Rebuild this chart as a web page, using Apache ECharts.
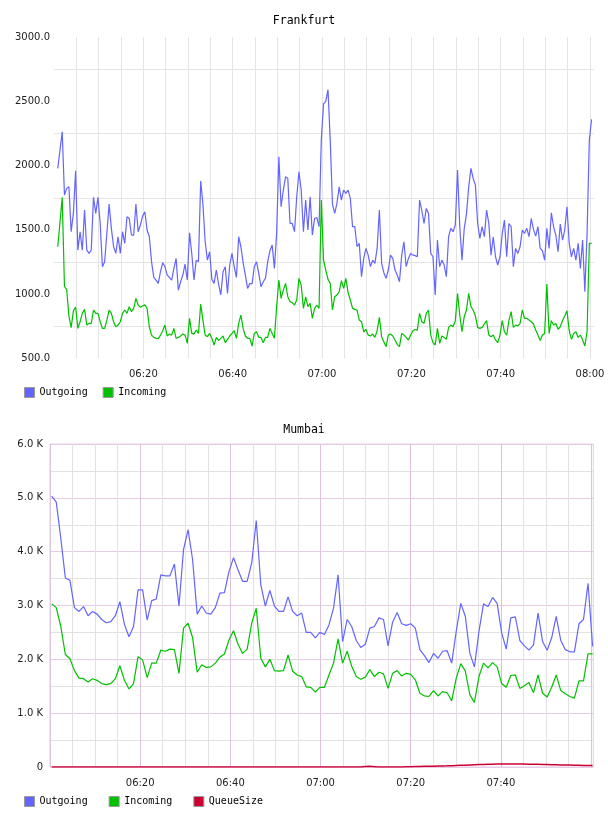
<!DOCTYPE html>
<html>
<head>
<meta charset="utf-8">
<script src="https://cdn.jsdelivr.net/npm/echarts@6/dist/echarts.min.js"></script>
<style>
  html, body { margin: 0; padding: 0; background: #fff; }
  #main { width: 608px; height: 816px; }
</style>
</head>
<body>
<div id="main"></div>
<script>
// 时间轴：06:00 之后的分钟数
var fraStart = 0.84, fraStep = 0.5;     // Frankfurt 每 30 秒一个点
var mumStart = 0.38, mumStep = 1.008;   // Mumbai 约每分钟一个点

// Frankfurt
var fraOutgoing = [
  1978, 2120, 2263, 1771, 1823, 1836, 1486, 1628, 1960, 1343,
  1486, 1343, 1654, 1343, 1317, 1343, 1753, 1628, 1753, 1550,
  1214, 1252, 1478, 1701, 1512, 1369, 1317, 1447, 1317, 1486,
  1395, 1602, 1589, 1460, 1460, 1701, 1486, 1538, 1607, 1641,
  1499, 1447, 1252, 1131, 1110, 1084, 1175, 1245, 1214, 1149,
  1131, 1110, 1201, 1278, 1032, 1097, 1149, 1234, 1110, 1478,
  1317, 1110, 1265, 1252, 1880, 1700, 1408, 1265, 1330, 1115,
  1084, 1188, 1079, 994, 1175, 1214, 1006, 1227, 1317, 1214,
  1130, 1447, 1369, 1245, 1149, 1045, 1084, 1079, 1214, 1252,
  1162, 1058, 1097, 1123, 1252, 1338, 1382, 1201, 1473, 2069,
  1680, 1810, 1913, 1900, 1550, 1550, 1486, 1758, 1952, 1810,
  1486, 1732, 1499, 1758, 1460, 1589, 1597, 1525, 2200, 2480,
  2500, 2590, 2200, 1700, 1628, 1706, 1835, 1732, 1810, 1784,
  1810, 1745, 1525, 1525, 1369, 1395, 1136, 1278, 1356, 1304,
  1214, 1265, 1240, 1356, 1654, 1240, 1167, 1123, 1188, 1304,
  1278, 1188, 1149, 1097, 1304, 1408, 1214, 1278, 1317, 1304,
  1300, 1291, 1732, 1649, 1550, 1667, 1628, 1317, 1291, 994,
  1421, 1214, 1265, 1227, 1136, 1447, 1512, 1486, 1538, 1965,
  1525, 1265, 1512, 1623, 1835, 1978, 1900, 1848, 1550, 1434,
  1525, 1447, 1654, 1550, 1304, 1447, 1291, 1227, 1291, 1467,
  1576, 1291, 1550, 1525, 1214, 1356, 1317, 1369, 1499, 1473,
  1512, 1447, 1589, 1504, 1452, 1525, 1356, 1338, 1265, 1512,
  1356, 1633, 1525, 1460, 1330, 1545, 1421, 1499, 1680, 1395,
  1291, 1356, 1265, 1395, 1201, 1421, 1020, 1473, 2198, 2359
];
var fraIncoming = [
  1369, 1560, 1753, 1060, 1035, 830, 740, 870, 900, 734,
  786, 851, 882, 760, 773, 773, 877, 851, 851, 786,
  734, 734, 799, 877, 851, 786, 747, 760, 786, 851,
  877, 851, 903, 864, 890, 967, 916, 898, 908, 918,
  890, 747, 682, 664, 657, 654, 682, 716, 760, 675,
  690, 682, 734, 657, 664, 675, 690, 682, 618, 812,
  695, 690, 721, 695, 923, 799, 682, 670, 695, 657,
  605, 664, 639, 657, 675, 623, 649, 675, 695, 716,
  657, 773, 838, 734, 675, 657, 657, 597, 695, 708,
  664, 664, 623, 664, 664, 734, 695, 657, 903, 1110,
  967, 1032, 1084, 980, 942, 934, 916, 955, 1123, 1071,
  890, 980, 903, 929, 812, 890, 916, 890, 1732, 1265,
  1188, 1115, 1084, 877, 980, 993, 1019, 1105, 1045, 1123,
  1012, 955, 890, 882, 877, 799, 786, 708, 727, 682,
  675, 690, 664, 716, 820, 670, 631, 592, 682, 690,
  675, 644, 610, 592, 695, 682, 664, 644, 682, 716,
  725, 721, 851, 786, 773, 851, 877, 682, 623, 605,
  734, 618, 675, 664, 649, 742, 760, 747, 794, 1006,
  838, 708, 825, 877, 1006, 903, 877, 830, 742, 734,
  742, 768, 794, 682, 670, 682, 644, 623, 682, 794,
  708, 682, 794, 864, 742, 760, 753, 773, 877, 812,
  812, 799, 786, 768, 721, 682, 639, 682, 695, 1080,
  695, 794, 760, 773, 727, 747, 794, 830, 872, 716,
  649, 695, 708, 664, 682, 644, 597, 708, 1395, 1395
];

// Mumbai
var mumOutgoing = [
  5030, 4920, 4250, 3510, 3470, 2960, 2890, 2980, 2810, 2890,
  2840, 2740, 2680, 2700, 2810, 3070, 2650, 2420, 2610, 3290,
  3290, 2730, 3090, 3120, 3570, 3550, 3550, 3770, 2990, 4040,
  4410, 3850, 2840, 2990, 2860, 2840, 2960, 3230, 3240, 3630,
  3890, 3660, 3450, 3450, 3790, 4580, 3390, 2990, 3280, 2990,
  2890, 2890, 3160, 2890, 2810, 2860, 2500, 2500, 2400, 2500,
  2460, 2640, 2950, 3570, 2330, 2740, 2610, 2350, 2220, 2280,
  2580, 2610, 2770, 2740, 2250, 2690, 2870, 2660, 2630, 2660,
  2580, 2180, 2070, 1940, 2110, 2020, 2150, 2160, 1930, 2520,
  3040, 2800, 2110, 1860, 2520, 3030, 2980, 3150, 3040, 2490,
  2190, 2770, 2790, 2350, 2250, 2170, 2270, 2860, 2330, 2170,
  2400, 2800, 2350, 2180, 2140, 2140, 2660, 2740, 3410, 2240
];
var mumIncoming = [
  3030, 2960, 2610, 2090, 2010, 1790, 1650, 1640, 1580, 1640,
  1610, 1550, 1530, 1550, 1640, 1880, 1610, 1450, 1550, 2050,
  1990, 1660, 1930, 1930, 2170, 2150, 2190, 2180, 1740, 2580,
  2670, 2400, 1760, 1900, 1850, 1860, 1930, 2040, 2100, 2360,
  2530, 2280, 2110, 2190, 2670, 2950, 2020, 1860, 2000, 1790,
  1780, 1790, 2080, 1780, 1710, 1680, 1490, 1480, 1390, 1480,
  1480, 1710, 1930, 2380, 1930, 2150, 1870, 1680, 1630, 1670,
  1810, 1680, 1760, 1730, 1460, 1740, 1790, 1690, 1740, 1720,
  1620, 1370, 1320, 1310, 1420, 1320, 1400, 1380, 1230, 1650,
  1920, 1780, 1340, 1200, 1680, 1930, 1840, 1940, 1860, 1550,
  1480, 1700, 1710, 1460, 1510, 1570, 1380, 1710, 1370, 1300,
  1480, 1710, 1420, 1360, 1310, 1280, 1600, 1600, 2100, 2100
];
var mumQueue = [
  0, 0, 0, 0, 0, 0, 0, 0, 0, 0,
  0, 0, 0, 0, 0, 0, 0, 0, 0, 0,
  0, 0, 0, 0, 0, 0, 0, 0, 0, 0,
  0, 0, 0, 0, 0, 0, 0, 0, 0, 0,
  0, 0, 0, 0, 0, 0, 0, 0, 0, 0,
  0, 0, 0, 0, 0, 0, 0, 0, 0, 0,
  0, 0, 0, 0, 0, 0, 0, 0, 0, 8,
  12, 6, 0, 0, 0, 0, 0, 2, 4, 6,
  8, 10, 12, 14, 16, 18, 20, 22, 25, 28,
  31, 34, 38, 42, 45, 48, 50, 52, 55, 57,
  58, 58, 57, 56, 55, 53, 51, 49, 47, 45,
  43, 41, 39, 37, 35, 33, 31, 29, 28, 27
];

function pairs(start, step, vals) {
  return vals.map(function (v, i) { return [start + i * step, v]; });
}

function pad(n) { return (n < 10 ? '0' : '') + n; }

// 每 20 分钟一个时间标签
function timeLabel(skipLast) {
  return function (v) {
    if (v === 0 || v % 20 !== 0) return '';
    if (skipLast && v >= 120) return '';
    return pad(6 + Math.floor(v / 60)) + ':' + pad(v % 60);
  };
}

var tickFont = { fontFamily: 'DejaVu Sans', fontSize: 10, color: '#222' };
var monoFont = { fontFamily: 'DejaVu Sans Mono', fontSize: 10, color: '#000' };

var myChart = echarts.init(document.getElementById('main'), null, { renderer: 'canvas' });
myChart.setOption({
  animation: false,
  backgroundColor: '#fff',
  title: [{
    text: 'Frankfurt', left: 'center', top: 15, padding: 0,
    textStyle: { fontFamily: 'DejaVu Sans Mono', fontSize: 11.5, fontWeight: 'normal', color: '#000' }
  }, {
    text: 'Mumbai', left: 'center', top: 424, padding: 0,
    textStyle: { fontFamily: 'DejaVu Sans Mono', fontSize: 11.5, fontWeight: 'normal', color: '#000' }
  }],
  legend: [{
    left: 24, top: 387, padding: 0, icon: 'rect', itemWidth: 10, itemHeight: 10, itemGap: 15,
    selectedMode: false, data: ['Outgoing', 'Incoming'], textStyle: monoFont,
    itemStyle: { borderColor: '#999', borderWidth: 1 }
  }, {
    left: 24, top: 796, padding: 0, icon: 'rect', itemWidth: 10, itemHeight: 10, itemGap: 21,
    selectedMode: false, data: ['Outgoing', 'Incoming', 'QueueSize'], textStyle: monoFont,
    itemStyle: { borderColor: '#999', borderWidth: 1 }
  }],
  grid: [
    { left: 54, top: 37, width: 540, height: 321.5 },
    { left: 50, top: 444, width: 543.3, height: 323, show: true, borderColor: '#e6cfe6', borderWidth: 1 }
  ],
  xAxis: [{
    gridIndex: 0, type: 'value', min: 0, max: 120.89, interval: 5,
    axisLine: { show: false }, axisTick: { show: false },
    axisLabel: Object.assign({ margin: 11, formatter: timeLabel(false), showMaxLabel: false }, tickFont),
    splitLine: { show: true, showMinLine: false, showMaxLine: false, lineStyle: { color: '#e4e4e4', width: 1 } }
  }, {
    gridIndex: 1, type: 'value', min: 0, max: 120.49, interval: 5,
    axisLine: { show: false }, axisTick: { show: false },
    axisLabel: Object.assign({ margin: 11, formatter: timeLabel(true), showMaxLabel: false }, tickFont),
    splitLine: {
      show: true, showMinLine: true, showMaxLine: false,
      lineStyle: { color: ['#dcc2dd', '#e2e2e2', '#e2e2e2', '#e2e2e2'], width: 1 }
    }
  }],
  yAxis: [{
    gridIndex: 0, type: 'value', min: 500, max: 3000, interval: 500,
    axisLine: { show: false }, axisTick: { show: false },
    axisLabel: Object.assign({ margin: 4, formatter: function (v) { return v.toFixed(1); } }, tickFont),
    splitLine: { show: false },
    minorTick: { show: false, splitNumber: 2 },
    minorSplitLine: { show: true, lineStyle: { color: '#e4e4e4', width: 1 } }
  }, {
    gridIndex: 1, type: 'value', min: 0, max: 6000, interval: 1000,
    axisLine: { show: false }, axisTick: { show: false },
    axisLabel: Object.assign({
      margin: 7,
      formatter: function (v) { return v === 0 ? '0' : (v / 1000).toFixed(1) + ' K'; }
    }, tickFont),
    splitLine: { show: true, lineStyle: { color: '#e6cde6', width: 1 } },
    minorTick: { show: false, splitNumber: 2 },
    minorSplitLine: { show: true, lineStyle: { color: '#e2e2e2', width: 1 } }
  }],
  series: [{
    name: 'Outgoing', type: 'line', xAxisIndex: 0, yAxisIndex: 0,
    data: pairs(fraStart, fraStep, fraOutgoing), showSymbol: false, symbol: 'none',
    itemStyle: { color: '#6464ff' }, lineStyle: { color: '#6464ff', width: 1.2 }
  }, {
    name: 'Incoming', type: 'line', xAxisIndex: 0, yAxisIndex: 0,
    data: pairs(fraStart, fraStep, fraIncoming), showSymbol: false, symbol: 'none',
    itemStyle: { color: '#00c000' }, lineStyle: { color: '#00c000', width: 1.2 }
  }, {
    name: 'Outgoing', type: 'line', xAxisIndex: 1, yAxisIndex: 1,
    data: pairs(mumStart, mumStep, mumOutgoing), showSymbol: false, symbol: 'none',
    itemStyle: { color: '#6464ff' }, lineStyle: { color: '#6464ff', width: 1.2 }
  }, {
    name: 'Incoming', type: 'line', xAxisIndex: 1, yAxisIndex: 1,
    data: pairs(mumStart, mumStep, mumIncoming), showSymbol: false, symbol: 'none',
    itemStyle: { color: '#00c000' }, lineStyle: { color: '#00c000', width: 1.2 }
  }, {
    name: 'QueueSize', type: 'line', xAxisIndex: 1, yAxisIndex: 1,
    data: pairs(mumStart, mumStep, mumQueue), showSymbol: false, symbol: 'none',
    itemStyle: { color: '#cc0033' }, lineStyle: { color: '#cc0033', width: 1.5 }
  }]
});
</script>
</body>
</html>
